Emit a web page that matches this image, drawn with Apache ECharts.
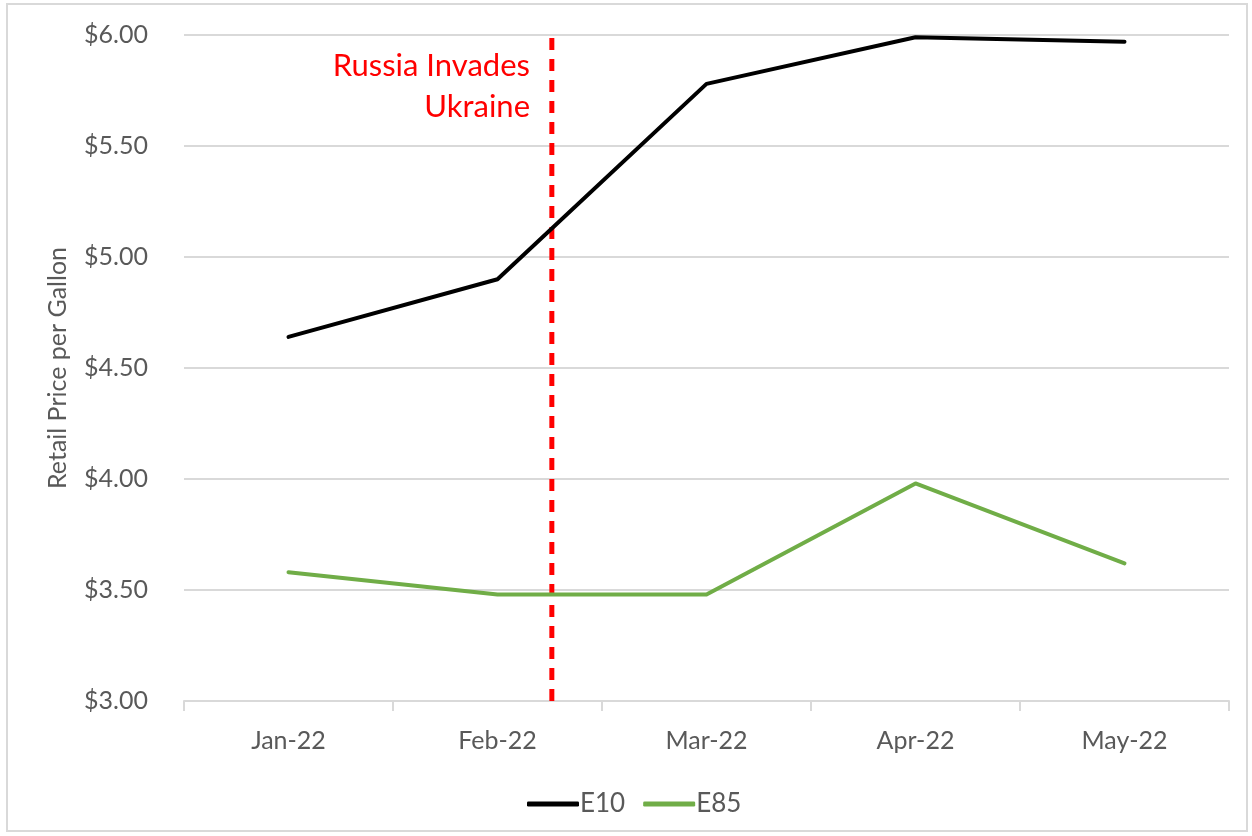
<!DOCTYPE html>
<html>
<head>
<meta charset="utf-8">
<style>
  html, body { margin: 0; padding: 0; background: #ffffff; }
  #frame { position: absolute; left: 6px; top: 3px; width: 1242px; height: 829px; border: 2px solid #d9d9d9; box-sizing: border-box; }
  #chart { position: absolute; left: 0; top: 0; width: 1252px; height: 836px; }
</style>
<script src="https://cdn.jsdelivr.net/npm/echarts@6/dist/echarts.min.js"></script>
</head>
<body>
<div id="frame"></div>
<div id="chart"></div>
<script>
// Monthly retail fuel prices, 2022
const months = ['Jan-22', 'Feb-22', 'Mar-22', 'Apr-22', 'May-22'];
const e10Prices = [4.64, 4.90, 5.78, 5.99, 5.97];
const e85Prices = [3.58, 3.48, 3.48, 3.98, 3.62];
const yTicks = { min: 3.0, max: 6.0, step: 0.5 };
// Invasion date, in month-index units (Jan-22 = 0)
const invasionIndex = 1.26;
const invasionLabel = 'Russia Invades\nUkraine';

const FONT = 'Lato, "Open Sans", sans-serif';
const GREY_TEXT = '#595959';

const chart = echarts.init(document.getElementById('chart'), null, { renderer: 'canvas' });

chart.setOption({
  animation: false,
  backgroundColor: 'transparent',
  grid: { left: 184, right: 23, top: 35, bottom: 135 },
  legend: {
    data: ['E10', 'E85'],
    left: 522,
    top: 786,
    icon: 'roundRect',
    itemWidth: 52,
    itemHeight: 5,
    itemGap: 18,
    textStyle: { fontFamily: FONT, fontSize: 26, color: GREY_TEXT, padding: [0, 0, 0, -4] }
  },
  xAxis: [
    {
      type: 'category',
      data: months,
      boundaryGap: true,
      axisLine: { lineStyle: { color: '#d9d9d9', width: 2 } },
      axisTick: { show: true, length: 10, lineStyle: { color: '#d9d9d9', width: 2 } },
      axisLabel: { fontFamily: FONT, fontSize: 25, color: GREY_TEXT, margin: 27 },
      splitLine: { show: false }
    },
    {
      type: 'value',
      min: -0.5,
      max: months.length - 0.5,
      show: false
    }
  ],
  yAxis: {
    type: 'value',
    min: yTicks.min,
    max: yTicks.max,
    interval: yTicks.step,
    name: 'Retail Price per Gallon',
    nameLocation: 'middle',
    nameGap: 114,
    nameTextStyle: { fontFamily: FONT, fontSize: 25, color: GREY_TEXT },
    axisLine: { show: false },
    axisTick: { show: false },
    axisLabel: {
      fontFamily: FONT, fontSize: 25, color: GREY_TEXT, margin: 36,
      formatter: v => '$' + v.toFixed(2)
    },
    splitLine: { lineStyle: { color: '#d9d9d9', width: 2 } }
  },
  series: [
    {
      name: 'invasion',
      type: 'line',
      xAxisIndex: 1,
      data: [[invasionIndex, yTicks.min], [invasionIndex, yTicks.max]],
      symbol: 'none',
      silent: true,
      lineStyle: { color: '#ff0000', width: 5, type: [12, 9] },
      z: 1
    },
    {
      name: 'E10',
      type: 'line',
      data: e10Prices,
      symbol: 'none',
      color: '#000000',
      lineStyle: { color: '#000000', width: 4, cap: 'round', join: 'round' },
      z: 3
    },
    {
      name: 'E85',
      type: 'line',
      data: e85Prices,
      symbol: 'none',
      color: '#70ad47',
      lineStyle: { color: '#70ad47', width: 4, cap: 'round', join: 'round' },
      z: 3
    }
  ],
  graphic: [
    {
      type: 'text',
      x: 530,
      y: 45,
      style: {
        text: invasionLabel,
        fontFamily: FONT,
        fontSize: 31,
        lineHeight: 41,
        fill: '#ff0000',
        align: 'right',
        verticalAlign: 'top'
      }
    }
  ]
});
</script>
</body>
</html>
